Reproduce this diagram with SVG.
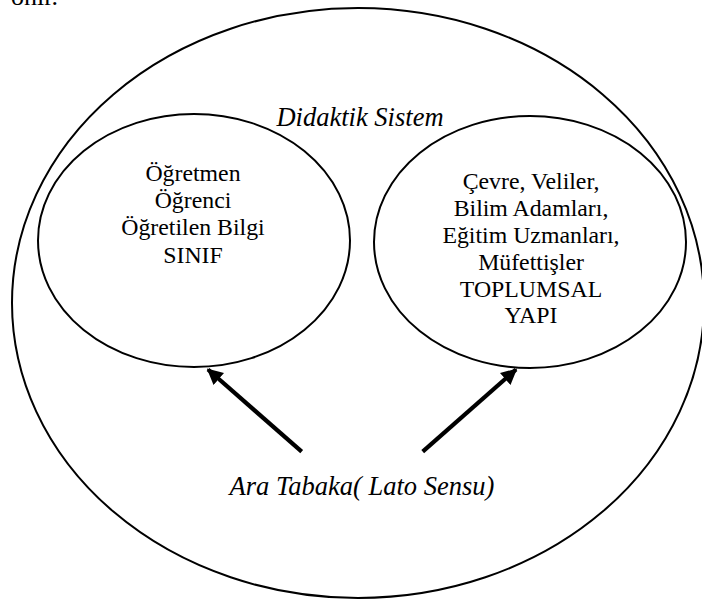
<svg xmlns="http://www.w3.org/2000/svg" width="702" height="599" viewBox="0 0 702 599">
  <style>
    text { font-family: "Liberation Serif", "DejaVu Serif", serif; fill: #000; }
    .shape { fill: none; stroke: #000; stroke-width: 2; }
    .txt { font-size: 23.8px; text-anchor: middle; }
    .ital { font-size: 26.5px; font-style: italic; text-anchor: middle; }
    .arrow { stroke: #000; stroke-width: 4.2; fill: none; }
  </style>
  <defs>
    <marker id="head" viewBox="0 0 10 10" refX="9" refY="5" markerWidth="16" markerHeight="16" markerUnits="userSpaceOnUse" orient="auto">
      <path d="M0,0 L10,5 L0,10 z" fill="#000"/>
    </marker>
  </defs>
  <rect width="702" height="599" fill="#fff"/>

  <!-- trailing words of the preceding paragraph, cut by the page edge -->
  <text x="58" y="5" font-size="26" text-anchor="end">önir.</text>

  <g id="didaktik-sistem">
    <ellipse class="shape" cx="358" cy="303" rx="346" ry="295"/>
    <text class="ital" x="360" y="125.5">Didaktik Sistem</text>
  </g>

  <g id="sinif">
    <ellipse class="shape" cx="194" cy="240.5" rx="156" ry="126.5"/>
    <text class="txt" x="193" y="181">Öğretmen</text>
    <text class="txt" x="193" y="208">Öğrenci</text>
    <text class="txt" x="193" y="235">Öğretilen Bilgi</text>
    <text class="txt" x="193" y="262.5">SINIF</text>
  </g>

  <g id="toplumsal-yapi">
    <ellipse class="shape" cx="530" cy="242" rx="156" ry="126"/>
    <text class="txt" x="531" y="189">Çevre, Veliler,</text>
    <text class="txt" x="531" y="216">Bilim Adamları,</text>
    <text class="txt" x="531" y="243">Eğitim Uzmanları,</text>
    <text class="txt" x="531" y="270">Müfettişler</text>
    <text class="txt" x="531" y="297">TOPLUMSAL</text>
    <text class="txt" x="531" y="323">YAPI</text>
  </g>

  <g id="ara-tabaka">
    <text class="ital" x="362" y="495">Ara Tabaka( Lato Sensu)</text>
  </g>

  <g id="connectors">
    <line class="arrow" x1="301.7" y1="451.7" x2="208" y2="369.5" marker-end="url(#head)"/>
    <line class="arrow" x1="422.7" y1="451.7" x2="516" y2="369.5" marker-end="url(#head)"/>
  </g>
</svg>
